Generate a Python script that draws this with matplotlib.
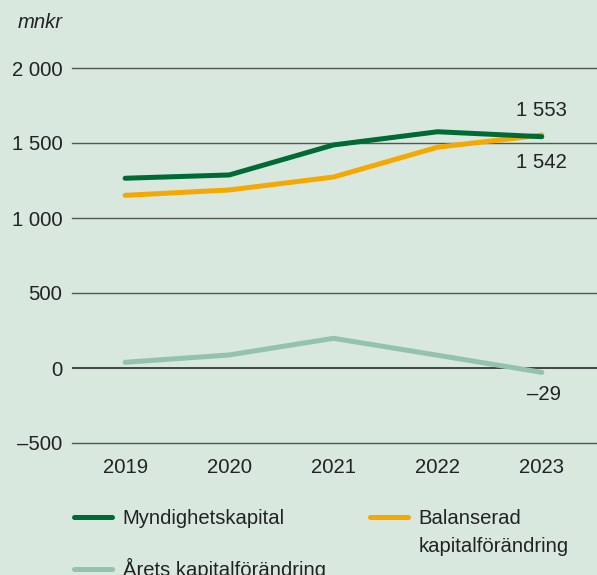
import matplotlib.pyplot as plt
from matplotlib.lines import Line2D
from matplotlib.ticker import FuncFormatter

plt.rcParams['font.family'] = ['Liberation Sans', 'DejaVu Sans']

# Data
years = [2019, 2020, 2021, 2022, 2023]
myndighetskapital = [1265, 1287, 1487, 1575, 1542]
balanserad = [1151, 1187, 1273, 1472, 1553]
arets = [38, 87, 198, 85, -29]

bg = '#d8e8df'
c_mynd = '#006a35'
c_bal = '#f5a800'
c_arets = '#93c3aa'
txt = '#222222'
fs = 14.6

W, H = 597, 575
fig = plt.figure(figsize=(W / 100, H / 100), dpi=100, facecolor=bg)
ax = fig.add_axes([72 / W, 1 - 443 / H, 1 - 72 / W, (443 - 68) / H])
ax.set_facecolor(bg)

ax.set_ylim(-500, 2000)
ax.set_xlim(2018.49, 2023.53)
ax.set_yticks([-500, 0, 500, 1000, 1500, 2000])
ax.yaxis.set_major_formatter(FuncFormatter(
    lambda v, p: f"{int(v):,}".replace(',', ' ').replace('-', '\u2013')))
ax.set_xticks(years)
ax.tick_params(axis='both', length=0, labelsize=fs, colors=txt)
ax.tick_params(axis='y', pad=7)
ax.tick_params(axis='x', pad=11)
for s in ax.spines.values():
    s.set_visible(False)

for v in [-500, 500, 1000, 1500, 2000]:
    ax.axhline(v, color='#555555', lw=1.0, zorder=1, clip_on=False)
ax.axhline(0, color='#1a1a1a', lw=1.1, zorder=1)

l_bal, = ax.plot(years, balanserad, color=c_bal, lw=3.6, solid_capstyle='round', zorder=3)
l_mynd, = ax.plot(years, myndighetskapital, color=c_mynd, lw=3.6, solid_capstyle='round', zorder=4)
l_arets, = ax.plot(years, arets, color=c_arets, lw=3.6, solid_capstyle='round', zorder=3)

ax.annotate('1 553', (years[-1], balanserad[-1]), xytext=(0, 25), textcoords='offset pixels',
            ha='center', va='center', fontsize=fs, color=txt)
ax.annotate('1 542', (years[-1], myndighetskapital[-1]), xytext=(0, -26), textcoords='offset pixels',
            ha='center', va='center', fontsize=fs, color=txt)
ax.annotate('\u201329', (years[-1], arets[-1]), xytext=(2, -22), textcoords='offset pixels',
            ha='center', va='center', fontsize=fs, color=txt)

fig.text(18 / W, 1 - 22 / H, 'mnkr', fontsize=fs, style='italic', color=txt, va='center')

common = dict(frameon=False, fontsize=fs, handlelength=1.85, handletextpad=0.55,
              borderpad=0, borderaxespad=0, bbox_transform=fig.transFigure, loc='upper left')
leg1 = ax.legend([l_mynd, l_arets], ['Myndighetskapital', 'Årets kapitalförändring'],
                 labelspacing=1.5, bbox_to_anchor=(74 / W, 1 - 509 / H), **common)
ax.add_artist(leg1)
blank = Line2D([], [], color='none')
leg2 = ax.legend([l_bal, blank], ['Balanserad', 'kapitalförändring'],
                 labelspacing=0.42, bbox_to_anchor=(370 / W, 1 - 509 / H), **common)
for leg in (leg1, leg2):
    for t in leg.get_texts():
        t.set_color(txt)

fig.savefig('out.png', dpi=100, facecolor=bg)
